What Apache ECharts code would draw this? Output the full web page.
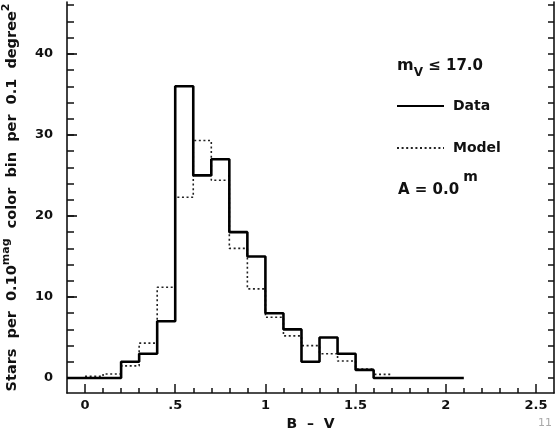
<!DOCTYPE html>
<html>
<head>
<meta charset="utf-8">
<script src="https://cdn.jsdelivr.net/npm/echarts@6/dist/echarts.min.js"></script>
<style>
html,body{margin:0;padding:0;background:#fff;}
#chart{width:560px;height:428px;}
</style>
</head>
<body>
<div id="chart"></div>
<script>
// Bin start positions (B-V) and counts, bin width 0.1
const dataBinStarts = [-0.1, 0.0, 0.1, 0.2, 0.3, 0.4, 0.5, 0.6, 0.7, 0.8, 0.9, 1.0, 1.1, 1.2, 1.3, 1.4, 1.5, 1.6, 1.7, 1.8, 1.9, 2.0];
const dataCounts    = [0, 0, 0, 2, 3, 7, 36, 25, 27, 18, 15, 8, 6, 2, 5, 3, 1, 0, 0, 0, 0, 0];
const dataEnd = 2.1;

const modelBinStarts = [0.0, 0.1, 0.2, 0.3, 0.4, 0.5, 0.6, 0.7, 0.8, 0.9, 1.0, 1.1, 1.2, 1.3, 1.4, 1.5, 1.6];
const modelCounts    = [0.2, 0.5, 1.5, 4.3, 11.2, 22.3, 29.3, 24.4, 16, 11, 7.5, 5.2, 4, 3, 2.1, 1.1, 0.45];
const modelEnd = 1.7;

const xMajorTicks = [0, 0.5, 1, 1.5, 2, 2.5];
const xTickLabels = ['0', '.5', '1', '1.5', '2', '2.5'];
const xMinorTicks = [0,0.1,0.2,0.3,0.4,0.5,0.6,0.7,0.8,0.9,1,1.1,1.2,1.3,1.4,1.5,1.6,1.7,1.8,1.9,2,2.1,2.2,2.3,2.4,2.5];
const yMajorTicks = [0, 10, 20, 30, 40];
const yTickLabels = ['0', '10', '20', '30', '40'];
const yMinorTicks = [0,2,4,6,8,10,12,14,16,18,20,22,24,26,28,30,32,34,36,38,40,42,44,46];

function stepPoints(starts, vals, end) {
  const pts = starts.map((s, i) => [s, vals[i]]);
  pts.push([end, vals[vals.length - 1]]);
  return pts;
}

const FONT = 'DejaVu Sans';
const INK = '#111';
const chart = echarts.init(document.getElementById('chart'), null, {renderer: 'canvas'});

const xBase = {type: 'value', min: -0.1, max: 2.6, gridIndex: 0, splitLine: {show: false}};
const yBase = {type: 'value', min: -1.85, max: 46.4, gridIndex: 0, splitLine: {show: false}};

chart.setOption({
  backgroundColor: '#fff',
  animation: false,
  grid: {left: 67, right: 6, top: 2, bottom: 35, containLabel: false, outerBoundsMode: 'none'},
  xAxis: [
    Object.assign({}, xBase, {
      position: 'bottom',
      axisLine: {show: true, onZero: false, lineStyle: {color: INK, width: 1.6}},
      axisTick: {show: true, inside: true, length: 5, customValues: xMinorTicks, lineStyle: {color: INK, width: 1.5}},
      axisLabel: {show: true, customValues: xMajorTicks, margin: 6, color: INK, fontFamily: FONT, fontSize: 13, fontWeight: 'bold',
        formatter: function (v) { const i = xMajorTicks.findIndex(t => Math.abs(t - v) < 1e-6); return i >= 0 ? xTickLabels[i] : ''; }},
      name: 'B  –  V', nameLocation: 'middle', nameGap: 18,
      nameTextStyle: {color: INK, fontFamily: FONT, fontSize: 14, fontWeight: 'bold'}
    }),
    Object.assign({}, xBase, {
      position: 'bottom',
      axisLine: {show: false, onZero: false},
      axisTick: {show: true, inside: true, length: 9, customValues: xMajorTicks, lineStyle: {color: INK, width: 1.5}},
      axisLabel: {show: false}
    })
  ],
  yAxis: [
    Object.assign({}, yBase, {
      position: 'left',
      axisLine: {show: true, onZero: false, lineStyle: {color: INK, width: 1.6}},
      axisTick: {show: true, inside: true, length: 7, customValues: yMinorTicks, lineStyle: {color: INK, width: 1.5}},
      axisLabel: {show: true, customValues: yMajorTicks, margin: 14, color: INK, fontFamily: FONT, fontSize: 13, fontWeight: 'bold',
        formatter: function (v) { const i = yMajorTicks.indexOf(Math.round(v)); return i >= 0 ? yTickLabels[i] : ''; }},
      name: 'Stars  per  0.10{sup|mag}  color  bin  per  0.1  degree{sup|2}',
      nameLocation: 'middle', nameRotate: 90, nameGap: 44,
      nameTextStyle: {color: INK, fontFamily: FONT, fontSize: 14.5, fontWeight: 'bold', lineHeight: 22,
        rich: {sup: {color: INK, fontFamily: FONT, fontSize: 11, fontWeight: 'bold', lineHeight: 12, verticalAlign: 'top'}}}
    }),
    Object.assign({}, yBase, {
      position: 'left',
      axisLine: {show: false, onZero: false},
      axisTick: {show: true, inside: true, length: 10, customValues: yMajorTicks, lineStyle: {color: INK, width: 1.6}},
      axisLabel: {show: false}
    }),
    Object.assign({}, yBase, {
      position: 'right',
      axisLine: {show: true, onZero: false, lineStyle: {color: INK, width: 1.6}},
      axisTick: {show: true, inside: true, length: 6, customValues: yMinorTicks, lineStyle: {color: INK, width: 1.5}},
      axisLabel: {show: false}
    })
  ],
  legend: {
    orient: 'vertical', left: 396, top: 99, padding: 0,
    itemWidth: 47, itemHeight: 14, itemGap: 28,
    itemStyle: {color: 'transparent', borderWidth: 0, opacity: 0},
    textStyle: {color: INK, fontFamily: FONT, fontSize: 14, fontWeight: 'bold', padding: [0, 0, 0, 4]},
    data: ['Data', 'Model']
  },
  series: [
    {
      name: 'Model', type: 'line', step: 'end', xAxisIndex: 0, yAxisIndex: 0,
      data: stepPoints(modelBinStarts, modelCounts, modelEnd),
      symbol: 'none', z: 2,
      lineStyle: {color: '#222', width: 1.6, type: [2, 2.6]},
      itemStyle: {color: '#222'}
    },
    {
      name: 'Data', type: 'line', step: 'end', xAxisIndex: 0, yAxisIndex: 0,
      data: stepPoints(dataBinStarts, dataCounts, dataEnd),
      symbol: 'none', z: 3,
      lineStyle: {color: '#000', width: 2.6, type: 'solid'},
      itemStyle: {color: '#000'}
    }
  ],
  graphic: [
    {type: 'text', left: 397, top: 58, style: {
      text: '{m|m}{sub|V}{t| ≤ 17.0}',
      rich: {
        m: {fontFamily: FONT, fontSize: 16, fontWeight: 'bold', fill: INK, lineHeight: 26, verticalAlign: 'middle'},
        sub: {fontFamily: FONT, fontSize: 12, fontWeight: 'bold', fill: INK, lineHeight: 12, verticalAlign: 'bottom'},
        t: {fontFamily: FONT, fontSize: 15, fontWeight: 'bold', fill: INK, lineHeight: 26, verticalAlign: 'middle'}
      }}},
    {type: 'text', left: 398, top: 170, style: {
      text: '{t|A = 0.0}{sup|m}',
      rich: {
        t: {fontFamily: FONT, fontSize: 15, fontWeight: 'bold', fill: INK, lineHeight: 28, verticalAlign: 'bottom'},
        sup: {fontFamily: FONT, fontSize: 14, fontWeight: 'bold', fill: INK, lineHeight: 14, verticalAlign: 'top', padding: [0, 0, 0, 4]}
      }}},
    {type: 'text', left: 538, top: 418, style: {text: '11', fontFamily: FONT, fontSize: 11, fill: '#aaa'}}
  ]
});
</script>
</body>
</html>
